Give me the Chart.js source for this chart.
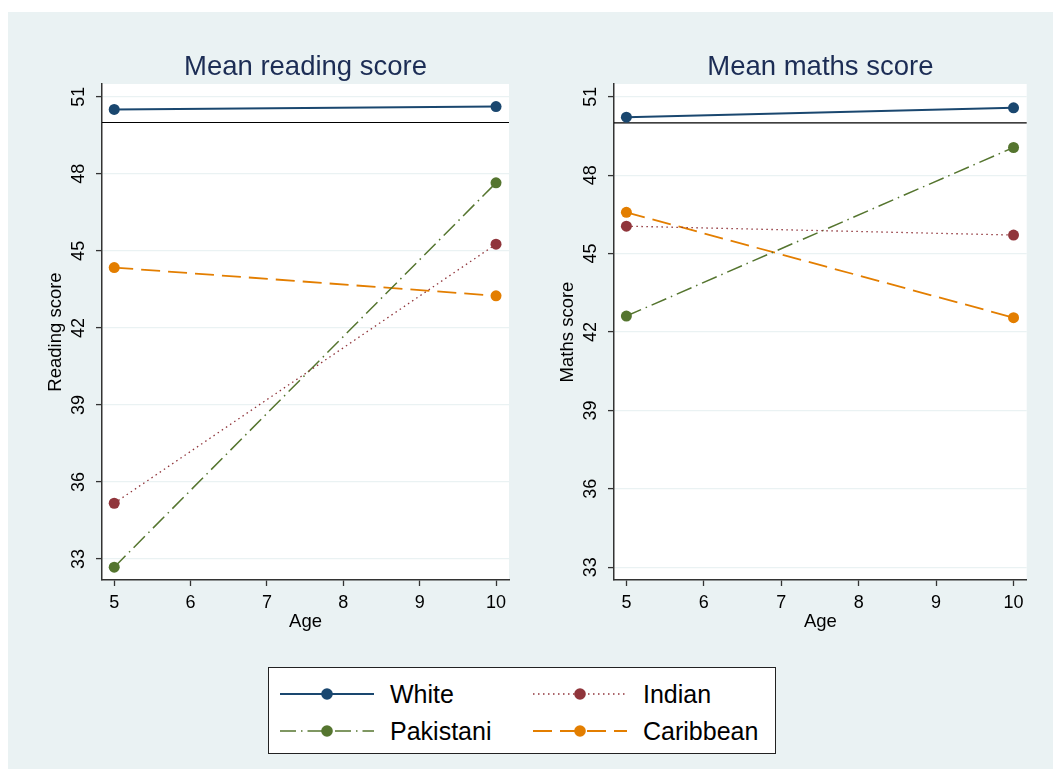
<!DOCTYPE html>
<html>
<head>
<meta charset="utf-8">
<script src="https://cdn.jsdelivr.net/npm/chart.js@4.4.1/dist/chart.umd.min.js"></script>
<style>
  body { margin: 0; background: #fff; font-family: "Liberation Sans", Arial, sans-serif; }
  #fondo { position: absolute; left: 8px; top: 12px; width: 1045px; height: 757px; background: #eaf2f3; }
  .caja { position: absolute; top: 12px; height: 630px; }
  #cajaLectura { left: 18px; width: 510px; }
  #cajaMates { left: 530px; width: 523px; }
  #leyenda { position: absolute; left: 268px; top: 667px; width: 506px; height: 85px;
             background: #fff; border: 1px solid #222; }
  .muestra { position: absolute; width: 94px; height: 20px; }
  .nombre { position: absolute; font-size: 25px; line-height: 30px; color: #000; }
</style>
</head>
<body>
<div id="fondo"></div>
<div class="caja" id="cajaLectura"><canvas id="graficoLectura"></canvas></div>
<div class="caja" id="cajaMates"><canvas id="graficoMates"></canvas></div>
<div id="leyenda"></div>

<script>
const edades = [5, 10];
const grupos = ["White", "Indian", "Pakistani", "Caribbean"];

// puntajes de lectura (edad 5, edad 10)
const lecturaWhite = [50.51, 50.62];
const lecturaIndian = [35.17, 45.26];
const lecturaPakistani = [32.68, 47.65];
const lecturaCaribbean = [44.35, 43.25];

// puntajes de matematicas
const matesWhite = [50.22, 50.58];
const matesIndian = [46.05, 45.71];
const matesPakistani = [42.61, 49.06];
const matesCaribbean = [46.58, 42.55];

const ticksX = [5, 6, 7, 8, 9, 10];
const ticksY = [33, 36, 39, 42, 45, 48, 51];
const lineaRef = 50;

const colores = {
  White: "#1a476f",
  Indian: "#90353b",
  Pakistani: "#55752f",
  Caribbean: "#e37e00",
};
const guiones = {
  White: [],
  Indian: [1.5, 3.5],
  Pakistani: [16, 5, 1.5, 5],
  Caribbean: [19, 8],
};
const grosores = { White: 2, Indian: 1.3, Pakistani: 1.5, Caribbean: 1.8 };

const fuente = "'Liberation Sans', Arial, sans-serif";

// fondo blanco del area del grafico y linea de referencia en 50
const areaBlanca = {
  id: "areaBlanca",
  beforeDraw(chart) {
    const a = chart.chartArea;
    chart.ctx.save();
    chart.ctx.fillStyle = "#fff";
    chart.ctx.fillRect(a.left, a.top, a.right - a.left, a.bottom - a.top);
    chart.ctx.restore();
  },
  beforeDatasetsDraw(chart) {
    const a = chart.chartArea;
    const y = chart.scales.y.getPixelForValue(lineaRef);
    const c = chart.ctx;
    c.save();
    c.strokeStyle = "#000";
    c.lineWidth = 1.2;
    c.beginPath();
    c.moveTo(a.left, y);
    c.lineTo(a.right, y);
    c.stroke();
    c.restore();
  },
};

// etiquetas del eje y giradas
const etiquetasY = {
  id: "etiquetasY",
  afterDraw(chart) {
    const s = chart.scales.y;
    const c = chart.ctx;
    c.save();
    c.font = "18px " + fuente;
    c.fillStyle = "#000";
    c.textAlign = "center";
    c.textBaseline = "middle";
    s.ticks.forEach((t) => {
      c.save();
      c.translate(s.right - 23, s.getPixelForValue(t.value));
      c.rotate(-Math.PI / 2);
      c.fillText(String(t.value), 0, 0);
      c.restore();
    });
    c.restore();
  },
};

function armarSeries(valores) {
  return grupos.map((g) => ({
    label: g,
    data: edades.map((e, i) => ({ x: e, y: valores[g][i] })),
    borderColor: colores[g],
    backgroundColor: colores[g],
    borderWidth: grosores[g],
    borderDash: guiones[g],
    pointRadius: 5.5,
    pointHoverRadius: 5.5,
    pointBorderWidth: 0,
    pointBackgroundColor: colores[g],
    tension: 0,
  }));
}

function crearGrafico(id, titulo, tituloY, valores, yMin, yMax, rellenoDer) {
  const ctx = document.getElementById(id).getContext("2d");
  return new Chart(ctx, {
    type: "line",
    data: { datasets: armarSeries(valores) },
    options: {
      responsive: true,
      maintainAspectRatio: false,
      animation: false,
      layout: { padding: { left: 0, right: rellenoDer, top: 0, bottom: 0 } },
      plugins: {
        legend: { display: false },
        tooltip: { enabled: false },
        title: {
          display: true,
          text: titulo,
          fullSize: false,
          color: "#1c2d55",
          font: { family: fuente, size: 27.5, weight: "normal" },
          padding: { top: 38.5, bottom: 0.5 },
        },
      },
      scales: {
        x: {
          type: "linear",
          min: 4.84,
          max: 10.17,
          afterBuildTicks: (s) => { s.ticks = ticksX.map((v) => ({ value: v })); },
          afterFit: (s) => { s.height = 62; },
          ticks: { color: "#000", font: { family: fuente, size: 18 }, padding: 6.5 },
          grid: { drawOnChartArea: false, drawTicks: true, tickLength: 6, tickColor: "#333", tickWidth: 1.3 },
          border: { display: true, color: "#333", width: 1.5 },
          title: {
            display: true,
            text: "Age",
            color: "#000",
            font: { family: fuente, size: 18.5 },
            padding: { top: 0, bottom: 9 },
          },
        },
        y: {
          type: "linear",
          min: yMin,
          max: yMax,
          afterBuildTicks: (s) => { s.ticks = ticksY.map((v) => ({ value: v })); },
          afterFit: (s) => { s.width = 84; },
          ticks: { display: false },
          grid: { color: "#eaf2f3", lineWidth: 1.2, drawTicks: true, tickLength: 6, tickColor: "#333", tickWidth: 1.3 },
          border: { display: true, color: "#333", width: 1.5 },
          title: {
            display: true,
            text: tituloY,
            color: "#000",
            font: { family: fuente, size: 18.5 },
            padding: { top: 27, bottom: 0 },
          },
        },
      },
    },
    plugins: [areaBlanca, etiquetasY],
  });
}

crearGrafico("graficoLectura", "Mean reading score", "Reading score",
  { White: lecturaWhite, Indian: lecturaIndian, Pakistani: lecturaPakistani, Caribbean: lecturaCaribbean },
  32.18, 51.5, 19);
crearGrafico("graficoMates", "Mean maths score", "Maths score",
  { White: matesWhite, Indian: matesIndian, Pakistani: matesPakistani, Caribbean: matesCaribbean },
  32.51, 51.49, 26.3);

// leyenda compartida
const leyenda = document.getElementById("leyenda");
const orden = ["White", "Indian", "Pakistani", "Caribbean"];
const posMuestra = [11, 264];
const posNombre = [121, 374];
const filas = [26, 62.5];
orden.forEach((g, i) => {
  const col = i % 2;
  const fila = Math.floor(i / 2);
  const m = document.createElement("div");
  m.className = "muestra";
  m.style.left = posMuestra[col] + "px";
  m.style.top = filas[fila] - 10 + "px";
  m.innerHTML =
    '<svg width="94" height="20"><line x1="0" y1="10" x2="94" y2="10" stroke="' + colores[g] +
    '" stroke-width="' + grosores[g] + '" stroke-dasharray="' + guiones[g].join(" ") +
    '"/><circle cx="47" cy="10" r="5.8" fill="' + colores[g] + '"/></svg>';
  leyenda.appendChild(m);
  const n = document.createElement("div");
  n.className = "nombre";
  n.textContent = g;
  n.style.left = posNombre[col] + "px";
  n.style.top = filas[fila] - 15 + "px";
  leyenda.appendChild(n);
});
</script>
</body>
</html>
